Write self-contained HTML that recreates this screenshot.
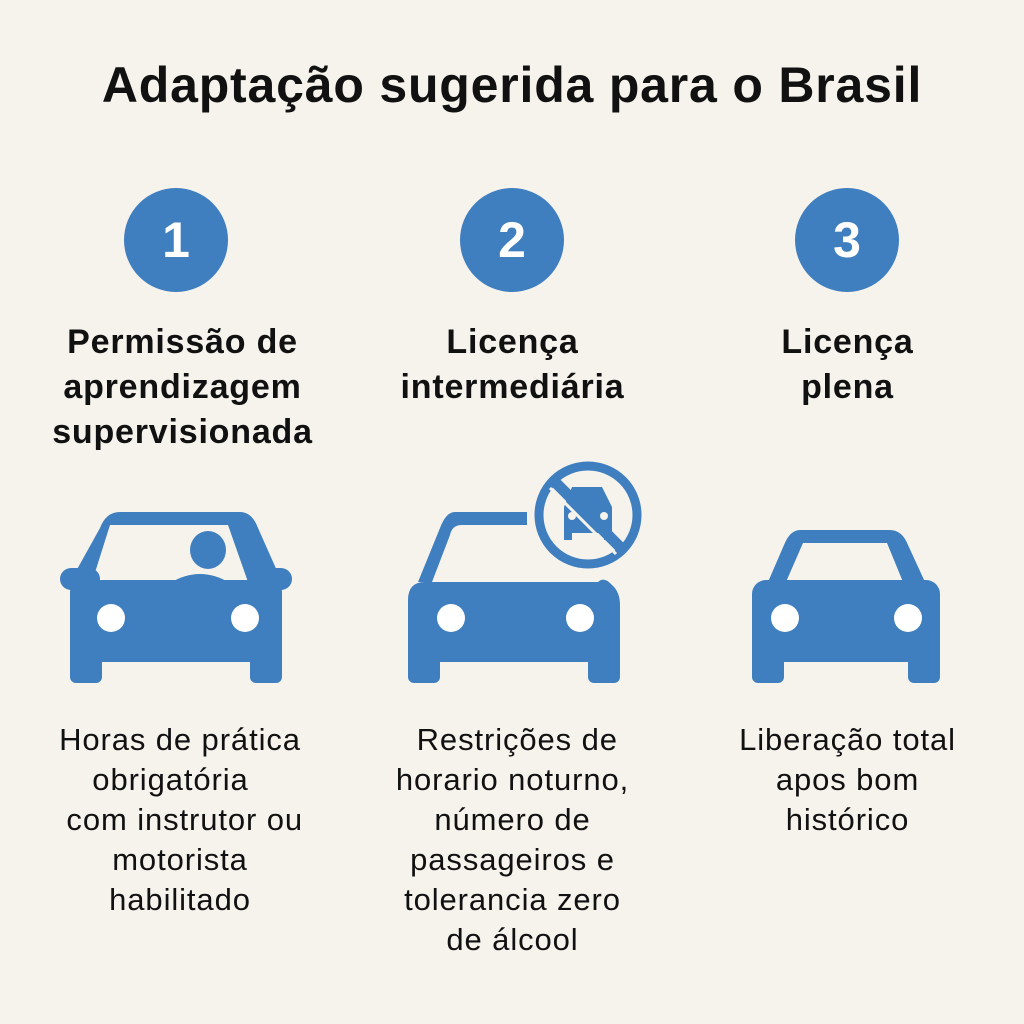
<!DOCTYPE html>
<html><head><meta charset="utf-8"><style>
body{margin:0;width:1024px;height:1024px;background:#f6f3ed;position:relative;overflow:hidden;font-family:"Liberation Sans",sans-serif;color:#111}
.t{position:absolute;text-align:center;white-space:nowrap}
h1{position:absolute;top:56px;left:0;width:1024px;margin:0;text-align:center;font-size:50px;letter-spacing:0.8px;font-weight:bold}
.c{position:absolute;width:104px;height:104px;border-radius:50%;background:#3f7fbf;color:#fff;font-size:50px;font-weight:bold;text-align:center;line-height:104px;top:188px}
.h{font-size:34px;letter-spacing:0.8px;font-weight:bold;line-height:45px;top:320px}
.d{font-size:31px;letter-spacing:0.9px;line-height:40px;top:720px}
</style></head><body>
<h1>Adaptação sugerida para o Brasil</h1>
<div class="c" style="left:124px">1</div>
<div class="c" style="left:460px">2</div>
<div class="c" style="left:795px">3</div>
<div class="t h" style="left:0;width:365px">Permissão de<br>aprendizagem<br>supervisionada</div>
<div class="t h" style="left:340px;width:345px">Licença<br>intermediária</div>
<div class="t h" style="left:675px;width:345px">Licença<br>plena</div>
<div class="t d" style="left:0;width:360px">Horas de prática<br>obrigatória&nbsp;&nbsp;<br>&nbsp;com instrutor ou<br>motorista<br>habilitado</div>
<div class="t d" style="left:340px;width:345px">&nbsp;Restrições de<br>horario noturno,<br>número de<br>passageiros e<br>tolerancia zero<br>de álcool</div>
<div class="t d" style="left:675px;width:345px">Liberação total<br>apos bom<br>histórico</div>
<svg width="1024" height="1024" style="position:absolute;left:0;top:0" fill="#3f7fbf">
<path d="M120 512 H240 Q252 512 258 528 L282 582 H70 L100 528 Q106 512 120 512Z"/>
<path d="M110 525 H228 L248 582 H92Z" fill="#f6f3ed"/>
<rect x="60" y="568" width="40" height="22" rx="11"/><rect x="252" y="568" width="40" height="22" rx="11"/>
<rect x="70" y="580" width="212" height="82" rx="12"/>
<rect x="70" y="640" width="32" height="43" rx="6"/><rect x="250" y="640" width="32" height="43" rx="6"/>
<ellipse cx="208" cy="550" rx="18" ry="19"/>
<path d="M170 583 Q200 565 230 583Z"/>
<circle cx="111" cy="618" r="14" fill="#fff"/><circle cx="245" cy="618" r="14" fill="#fff"/>
<path d="M455 512 H527 V525 H462 Q452 525 450 535 L432 582 H418 L440 528 Q446 512 455 512Z"/>
<path d="M408 600 Q408 582 425 582 H598 Q604 576 612 585 Q620 592 620 605 V662 H408Z"/>
<rect x="408" y="640" width="32" height="43" rx="6"/><rect x="588" y="640" width="32" height="43" rx="6"/>
<circle cx="451" cy="618" r="14" fill="#fff"/><circle cx="580" cy="618" r="14" fill="#fff"/>
<circle cx="588" cy="515" r="49" fill="none" stroke="#3f7fbf" stroke-width="9"/>
<path d="M572 487 H602 L612 507 V540 H604 V533 H572 V540 H564 V507Z"/>
<circle cx="572" cy="516" r="4" fill="#f6f3ed"/><circle cx="604" cy="516" r="4" fill="#f6f3ed"/>
<line x1="555" y1="482" x2="621" y2="548" stroke="#3f7fbf" stroke-width="11"/>
<line x1="555" y1="482" x2="621" y2="548" stroke="#f6f3ed" stroke-width="3" transform="translate(-5,6)"/>
<path d="M800 530 H890 Q902 530 908 545 L925 582 H768 L784 545 Q790 530 800 530Z"/>
<path d="M803 543 H887 L903 582 H786Z" fill="#f6f3ed"/>
<rect x="752" y="580" width="188" height="82" rx="14"/>
<rect x="752" y="640" width="32" height="43" rx="6"/><rect x="908" y="640" width="32" height="43" rx="6"/>
<circle cx="785" cy="618" r="14" fill="#fff"/><circle cx="908" cy="618" r="14" fill="#fff"/>
</svg>
</body></html>
